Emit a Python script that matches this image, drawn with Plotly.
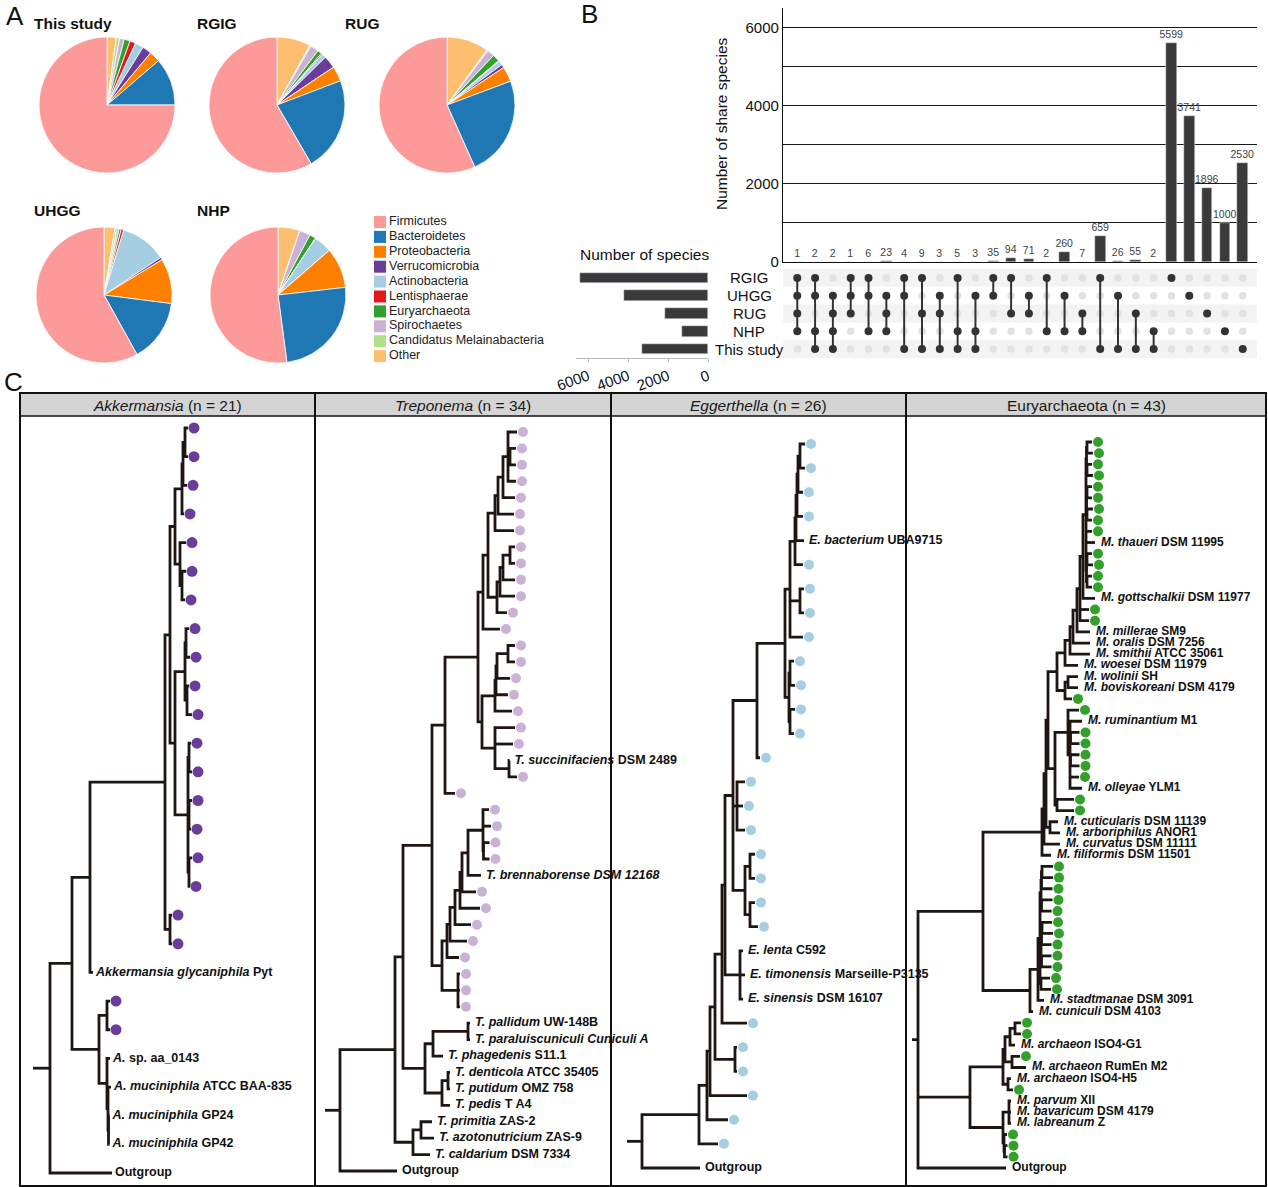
import plotly.graph_objects as go

W, H = 1268, 1187
FONT = "Liberation Sans, Arial, Helvetica, sans-serif"

# ---------------- Panel A data ----------------
PHYLA = ["Firmicutes", "Bacteroidetes", "Proteobacteria", "Verrucomicrobia",
         "Actinobacteria", "Lentisphaerae", "Euryarchaeota", "Spirochaetes",
         "Candidatus Melainabacteria", "Other"]
PHYLA_COLORS = ["#fb9a99", "#1f78b4", "#ff7f00", "#6a3d9a", "#a6cee3",
                "#e31a1c", "#33a02c", "#cab2d6", "#b2df8a", "#fdbf6f"]
PIE_THIS_STUDY = [75.0, 11.3, 2.6, 2.2, 2.0, 1.4, 1.4, 1.1, 0.8, 2.2]
PIE_RGIG = [58.4, 22.4, 3.6, 3.0, 1.0, 0.3, 1.0, 2.0, 0.3, 8.0]
PIE_RUG = [56.7, 24.0, 3.6, 0.8, 1.0, 0.2, 1.7, 1.7, 0.3, 10.0]
PIE_UHGG = [58.0, 14.9, 10.7, 0.6, 11.0, 0.6, 0.5, 0.5, 0.5, 2.6]
PIE_NHP = [52.1, 24.7, 9.6, 0.0, 4.3, 0.0, 1.5, 2.6, 0.0, 5.2]
PIE_TITLES = ["This study", "RGIG", "RUG", "UHGG", "NHP"]

# ---------------- Panel B data ----------------
SETS = ["RGIG", "UHGG", "RUG", "NHP", "This study"]
INTERSECTION_MEMBERS = ["11110", "11011", "01111", "11100", "11010", "01110",
                        "11001", "10101", "01101", "10011", "01011", "11000",
                        "10100", "01100", "10010", "01010", "00110", "10001",
                        "01001", "00101", "00011", "10000", "01000", "00100",
                        "00010", "00001"]
INTERSECTION_SIZES = [1, 2, 2, 1, 6, 23, 4, 9, 3, 5, 3, 35, 94, 71, 2, 260, 7,
                      659, 26, 55, 2, 5599, 3741, 1896, 1000, 2530]

# ---------------- Panel C data ----------------
TREE_TITLES = ["<i>Akkermansia</i> (n = 21)", "<i>Treponema</i> (n = 34)",
               "<i>Eggerthella</i> (n = 26)", "Euryarchaeota (n = 43)"]
TREE_DOT_COLORS = ["#6a3d9a", "#cab2d6", "#a6cee3", "#33a02c"]
TIP_LABELS = {
    "Out": "Outgroup",
    "Agly": "<i>Akkermansia glycaniphila</i> Pyt",
    "Asp": "<i>A.</i> sp. aa_0143",
    "Aatcc": "<i>A. muciniphila</i> ATCC BAA-835",
    "Agp24": "<i>A. muciniphila</i> GP24",
    "Agp42": "<i>A. muciniphila</i> GP42",
    "Tsuc": "<i>T. succinifaciens</i> DSM 2489",
    "Tbre": "<i>T. brennaborense DSM 12168</i>",
    "Tpal": "<i>T. pallidum</i> UW-148B",
    "Tpar": "<i>T. paraluiscuniculi Cuniculi A</i>",
    "Tpha": "<i>T. phagedenis</i> S11.1",
    "Tden": "<i>T. denticola</i> ATCC 35405",
    "Tput": "<i>T. putidum</i> OMZ 758",
    "Tped": "<i>T. pedis</i> T A4",
    "Tpri": "<i>T. primitia</i> ZAS-2",
    "Tazo": "<i>T. azotonutricium</i> ZAS-9",
    "Tcal": "<i>T. caldarium</i> DSM 7334",
    "Ebac": "<i>E. bacterium</i> UBA9715",
    "Elen": "<i>E. lenta</i> C592",
    "Etim": "<i>E. timonensis</i> Marseille-P3135",
    "Esin": "<i>E. sinensis</i> DSM 16107",
    "Mtha": "<i>M. thaueri</i> DSM 11995",
    "Mgot": "<i>M. gottschalkii</i> DSM 11977",
    "Mmil": "<i>M. millerae</i> SM9",
    "Mora": "<i>M. oralis</i> DSM 7256",
    "Msmi": "<i>M. smithii</i> ATCC 35061",
    "Mwoe": "<i>M. woesei</i> DSM 11979",
    "Mwol": "<i>M. wolinii</i> SH",
    "Mbov": "<i>M. boviskoreani</i> DSM 4179",
    "Mrum": "<i>M. ruminantium</i> M1",
    "Moll": "<i>M. olleyae</i> YLM1",
    "Mcut": "<i>M. cuticularis</i> DSM 11139",
    "Marb": "<i>M. arboriphilus</i> ANOR1",
    "Mcur": "<i>M. curvatus</i> DSM 11111",
    "Mfil": "<i>M. filiformis</i> DSM 11501",
    "Msta": "<i>M. stadtmanae</i> DSM 3091",
    "Mcun": "<i>M. cuniculi</i> DSM 4103",
    "MisoG1": "<i>M. archaeon</i> ISO4-G1",
    "Mrum2": "<i>M. archaeon</i> RumEn M2",
    "MisoH5": "<i>M. archaeon</i> ISO4-H5",
    "Mpar": "<i>M. parvum</i> XII",
    "Mbav": "<i>M. bavaricum</i> DSM 4179",
    "Mlab": "<i>M. labreanum</i> Z",
}

# Newick trees (branch lengths; "*" = MAG of this study)
AKK_G = "(((*:3,*:3):2,*:4):1,*:2)"
AKK_H = "(*:6,(*:4,*:3):2)"
AKK_J = "((*:3,*:4):1,(*:2,*:5):2)"
AKK_K = "((*:2,*:3):1,(*:3,*:2):1,(*:3,*:1):1)"
AKK_REF = "((*:3,*:3):8,(Asp:3,(Aatcc:3,(Agp24:1,Agp42:1):0.5):1):8)"
TREE_AKK = ("((((((" + AKK_G + ":7," + AKK_H + ":5):5,(" + AKK_J + ":10," + AKK_K
            + ":13):5):5,(*:2,*:2):5):75,Agly:3):18," + AKK_REF + ":27):22,Out:62):17")

TREP_Y6 = "(*:9,(*:6,*:6):2,*:8)"
TREP_Y3 = "((((*:5,*:5):7,*:12):3,*:15):3,*:10)"
TREP_Y = "(((((" + TREP_Y6 + ":5,*:12):5,*:16):3,*:19):7," + TREP_Y3 + ":9):5,*:17)"
TREP_Z = "(((((*:7,*:7):11,*:13):1,*:12):1,*:17):13,(*:20,*:18,(Tsuc:0.5,*:8):14):13)"
TREP_U = ("((((((((*:6,*:8,(*:6,*:6):0.5):15,Tbre:13):6,*:14):2,*:20):5,*:16):5,*:17):3,*:12)"
          ":5,(*:2,*:2,*:2):16)")
TREP_REF = "(((Tpal:2,Tpar:2):35,Tpha:10):8,((Tden:2,Tput:2):6,Tped:8):17)"
TREP_OUTER = "((Tpri:11,Tazo:13):8,Tcal:17)"
TREE_TREP = ("((((((" + TREP_Y + ":5," + TREP_Z + ":4):33,*:10):13," + TREP_U + ":10):29,"
             + TREP_REF + ":22):8," + TREP_OUTER + ":18):55,Out:57):15")

EGG_N1 = "(((((*:5,*:5):2,*:5):1,*:6):1,Ebac:8):1,*:8)"
EGG_L = "((" + EGG_N1 + ":5,(*:4,*:4):10,*:13):5,((*:4,*:5):1,(*:5,*:4):1):4)"
EGG_I = "((" + EGG_L + ":28,*:3):24,(*:8,*:6,*:8):4,((*:5,*:5):5,(*:5,*:8):5):12)"
EGG_G = "(" + EGG_I + ":8,(Elen:3,Etim:5,Esin:3):15)"
TREE_EGG = "((((((" + EGG_G + ":3,*:25):7,(*:2,*:2):20):5,*:37):3,*:21):8,*:19):57,Out:58):15"

EUR_G8 = ("(((*:5,*:6):0.5,(*:5,*:6):0.5):0.5,((*:5,*:5):0.5,(*:6,*:5):0.5):0.5,*:6,Mtha:9,"
          "((*:5,*:6):0.5,(*:5,*:5):0.5):0.5)")
EUR_G = ("(((((((" + EUR_G8 + ":3,Mgot:12):3,*:9,*:9):3,Mmil:13):4,Mora:17):3,Msmi:20):5,"
         "Mwoe:13):8,((Mwol:10,Mbov:10):3,*:7):8)")
EUR_H = "((*:11,(Mrum:12,(*:9,*:9):0.5,(*:9,*:9):0.5,*:9,Moll:12):2):13,(*:17,*:17):2)"
EUR_C = "((((" + EUR_G + ":9," + EUR_H + ":7):2,(Mcut:8,Marb:10):4):2,Mcur:16):2,Mfil:9)"
EUR_PA = "(((*:11,*:11):0.5,*:11):0.5,(*:11,*:10):0.5)"
EUR_PB = "(((*:10,*:11):0.5,*:10):0.5,(*:10,*:10):0.5)"
EUR_D = "(((" + EUR_PA + ":1," + EUR_PB + ":1,(*:9,*:10):1):2,Msta:6):8,Mcun:3)"
EUR_B = ("(((((*:6,*:6):5,MisoG1:5):5,(*:8,Mrum2:14):7):2,(MisoH5:3,*:5):5):33,"
         "((Mpar:2,Mbav:2,Mlab:2):6,(*:3,(*:3,*:3):0.5):1):33)")
TREE_EUR = "((" + EUR_C + ":59," + EUR_D + ":47):65," + EUR_B + ":52,Out:88):6"

TREES = [TREE_AKK, TREE_TREP, TREE_EGG, TREE_EUR]


def px(x):
    return x / W


def py(y):
    return 1 - y / H


def parse_newick(s):
    pos = 0

    def node():
        nonlocal pos
        kids = []
        if s[pos] == "(":
            pos += 1
            while True:
                kids.append(node())
                c = s[pos]
                pos += 1
                if c == ")":
                    break
        start = pos
        while pos < len(s) and s[pos] not in ":,()":
            pos += 1
        name = s[start:pos]
        length = 0.0
        if pos < len(s) and s[pos] == ":":
            pos += 1
            start = pos
            while pos < len(s) and s[pos] not in ",()":
                pos += 1
            length = float(s[start:pos])
        return {"name": name, "len": length, "kids": kids}

    return node()


fig = go.Figure()

# ---------------- Panel A: pies ----------------
PIE_VALUES = [PIE_THIS_STUDY, PIE_RGIG, PIE_RUG, PIE_UHGG, PIE_NHP]
pie_centres = [(107, 105), (277, 105), (447, 105), (104, 295), (278, 295)]
title_pos = [(32, 23), (195, 23), (343, 23), (32, 211), (195, 211)]
R = 68
for vals, (cx, cy) in zip(PIE_VALUES, pie_centres):
    # drawn clockwise from 12 o'clock starting with "Other", ending with Firmicutes
    fig.add_trace(go.Pie(
        labels=PHYLA[::-1], values=vals[::-1], sort=False, direction="clockwise",
        rotation=0, textinfo="none", showlegend=False,
        marker=dict(colors=PHYLA_COLORS[::-1], line=dict(color="white", width=0.8)),
        domain=dict(x=[px(cx - R), px(cx + R)], y=[py(cy + R), py(cy - R)]),
        hoverinfo="label+percent"))

annotations = []
for t, (tx, ty) in zip(PIE_TITLES, title_pos):
    annotations.append(dict(text="<b>" + t + "</b>", x=px(tx), y=py(ty), xref="paper",
                            yref="paper", xanchor="left", yanchor="middle", showarrow=False,
                            font=dict(size=15.5, color="#111", family=FONT)))

# legend for phyla (overlay pixel axis x4/y4)
leg_y = [222 + i * 14.9 for i in range(len(PHYLA))]
fig.add_trace(go.Scatter(x=[380] * len(PHYLA), y=leg_y, mode="markers",
                         marker=dict(symbol="square", size=12, color=PHYLA_COLORS),
                         xaxis="x4", yaxis="y4", showlegend=False, hoverinfo="skip"))
fig.add_trace(go.Scatter(x=[389] * len(PHYLA), y=leg_y, mode="text", text=PHYLA,
                         textposition="middle right",
                         textfont=dict(size=12.5, color="#222", family=FONT),
                         xaxis="x4", yaxis="y4", showlegend=False, hoverinfo="skip"))

# ---------------- Panel B: UpSet ----------------
cols = list(range(len(INTERSECTION_SIZES)))
fig.add_trace(go.Bar(x=cols, y=INTERSECTION_SIZES, width=0.6, marker_color="#3a3a3a",
                     text=[str(v) for v in INTERSECTION_SIZES], textposition="outside",
                     textfont=dict(size=10.5, color="#404040", family=FONT),
                     constraintext="none", cliponaxis=False, xaxis="x", yaxis="y",
                     showlegend=False, hoverinfo="x+y"))

inx, iny, acx, acy, lx, ly = [], [], [], [], [], []
for j, mem in enumerate(INTERSECTION_MEMBERS):
    rows = [i for i, c in enumerate(mem) if c == "1"]
    for i in range(len(SETS)):
        if i in rows:
            acx.append(j)
            acy.append(i)
        else:
            inx.append(j)
            iny.append(i)
    if len(rows) > 1:
        lx += [j, j, None]
        ly += [min(rows), max(rows), None]
fig.add_trace(go.Scatter(x=inx, y=iny, mode="markers", marker=dict(size=7.5, color="#e2e2e2"),
                         xaxis="x2", yaxis="y2", showlegend=False, hoverinfo="skip"))
fig.add_trace(go.Scatter(x=lx, y=ly, mode="lines", line=dict(color="#333333", width=2),
                         xaxis="x2", yaxis="y2", showlegend=False, hoverinfo="skip"))
fig.add_trace(go.Scatter(x=acx, y=acy, mode="markers", marker=dict(size=8, color="#333333"),
                         xaxis="x2", yaxis="y2", showlegend=False, hoverinfo="skip"))

set_totals = [sum(v for m, v in zip(INTERSECTION_MEMBERS, INTERSECTION_SIZES) if m[i] == "1")
              for i in range(len(SETS))]
fig.add_trace(go.Bar(y=list(range(len(SETS))), x=set_totals, orientation="h", width=0.6,
                     marker_color="#3a3a3a", xaxis="x3", yaxis="y3", showlegend=False,
                     hoverinfo="x"))
for i, s in enumerate(SETS):
    annotations.append(dict(text=s, x=px(749), y=i, xref="paper", yref="y2",
                            xanchor="center", yanchor="middle", showarrow=False,
                            font=dict(size=15, color="#111", family=FONT)))
annotations.append(dict(text="Number of species", x=px(578), y=py(255), xref="paper",
                        yref="paper", xanchor="left", yanchor="middle", showarrow=False,
                        font=dict(size=15.5, color="#111", family=FONT)))
annotations.append(dict(text="Number of share species", x=px(721), y=py(124), xref="paper",
                        yref="paper", xanchor="center", yanchor="middle", showarrow=False,
                        textangle=-90, font=dict(size=15.5, color="#111", family=FONT)))

shapes = []
for i in (0, 2, 4):
    shapes.append(dict(type="rect", xref="x2 domain", x0=0, x1=1, yref="y2", y0=i - 0.5,
                       y1=i + 0.5, fillcolor="#f3f3f3", line=dict(width=0), layer="below"))

# ---------------- Panel C: trees ----------------
panel_edges = [20, 315, 611, 906, 1266]
tree_root_x = [33, 325, 627, 912]
tree_tip_span = [(428, 1173), (432, 1171), (444, 1168), (442, 1168)]
dot_sizes = [11, 10, 10, 10]
label_off = [3, 5, 5, 6]
label_size = [12.5, 12.5, 12.5, 12]
LINE_COLOR = "#1e1613"

shapes.append(dict(type="rect", xref="x4", yref="y4", x0=20, x1=1266, y0=393, y1=416,
                   fillcolor="#d4d4d4", line=dict(color="#111", width=1.5), layer="below"))
shapes.append(dict(type="rect", xref="x4", yref="y4", x0=20, x1=1266, y0=393, y1=1186,
                   line=dict(color="#111", width=2)))
for xe in panel_edges[1:-1]:
    shapes.append(dict(type="line", xref="x4", yref="y4", x0=xe, x1=xe, y0=393, y1=1186,
                       line=dict(color="#111", width=2)))

for k, tree_str in enumerate(TREES):
    root = parse_newick(tree_str)
    tips = []

    def collect(n):
        if n["kids"]:
            for c in n["kids"]:
                collect(c)
        else:
            tips.append(n)

    collect(root)
    y0, y1 = tree_tip_span[k]
    step = (y1 - y0) / (len(tips) - 1)
    for i, t in enumerate(tips):
        t["y"] = y0 + i * step

    def place(n, parent_x):
        n["x"] = parent_x + n["len"]
        if n["kids"]:
            for c in n["kids"]:
                place(c, n["x"])
            n["y"] = (n["kids"][0]["y"] + n["kids"][-1]["y"]) / 2

    x0 = tree_root_x[k]
    place(root, x0)
    sx = [x0, root["x"], None]
    sy = [root["y"], root["y"], None]

    def segs(n):
        if not n["kids"]:
            return
        a, b = n["kids"][0], n["kids"][-1]
        sx.extend([a["x"], n["x"], n["x"], b["x"], None])
        sy.extend([a["y"], a["y"], b["y"], b["y"], None])
        for c in n["kids"][1:-1]:
            sx.extend([n["x"], c["x"], None])
            sy.extend([c["y"], c["y"], None])
        for c in n["kids"]:
            segs(c)

    segs(root)
    fig.add_trace(go.Scatter(x=sx, y=sy, mode="lines",
                             line=dict(color=LINE_COLOR, width=2.8),
                             xaxis="x4", yaxis="y4", showlegend=False, hoverinfo="skip"))
    dots = [t for t in tips if t["name"] == "*"]
    fig.add_trace(go.Scatter(x=[t["x"] + 6 for t in dots], y=[t["y"] for t in dots],
                             mode="markers",
                             marker=dict(size=dot_sizes[k], color=TREE_DOT_COLORS[k]),
                             xaxis="x4", yaxis="y4", showlegend=False, hoverinfo="skip"))
    labs = [t for t in tips if t["name"] != "*"]
    fig.add_trace(go.Scatter(x=[t["x"] + label_off[k] for t in labs], y=[t["y"] for t in labs],
                             mode="text", text=["<b>" + TIP_LABELS[t["name"]] + "</b>" for t in labs],
                             textposition="middle right", cliponaxis=False,
                             textfont=dict(size=label_size[k], color="#111", family=FONT),
                             xaxis="x4", yaxis="y4", showlegend=False, hoverinfo="skip"))
    annotations.append(dict(text=TREE_TITLES[k], x=(panel_edges[k] + panel_edges[k + 1]) / 2,
                            y=405, xref="x4", yref="y4", xanchor="center", yanchor="middle",
                            showarrow=False, font=dict(size=15.5, color="#1a1a1a", family=FONT)))

# panel letters
for letter, (lx_, ly_) in zip("ABC", [(4, 16), (579, 14), (2, 382)]):
    annotations.append(dict(text=letter, x=px(lx_), y=py(ly_), xref="paper", yref="paper",
                            xanchor="left", yanchor="middle", showarrow=False,
                            font=dict(size=26, color="#111", family=FONT)))

top_dom_x = [px(783), px(1257)]
mat_dom_y = [py(358), py(269)]
fig.update_layout(
    width=W, height=H, margin=dict(l=0, r=0, t=0, b=0, pad=0, autoexpand=False),
    paper_bgcolor="white", plot_bgcolor="rgba(0,0,0,0)",
    font=dict(family=FONT, color="#111"),
    showlegend=False, bargap=0,
    xaxis=dict(domain=top_dom_x, range=[-0.8, 25.8], showticklabels=False, showgrid=False,
               zeroline=False, showline=True, linecolor="#111", linewidth=1.3, ticks="",
               anchor="y", automargin=False),
    yaxis=dict(domain=[py(262), py(8)], range=[0, 6500],
               tickvals=[0, 1000, 2000, 3000, 4000, 5000, 6000],
               ticktext=["0", "", "2000", "", "4000", "", "6000"],
               showgrid=True, gridcolor="#1a1a1a", gridwidth=1.3, zeroline=False,
               showline=True, linecolor="#111", linewidth=1.3, ticks="",
               tickfont=dict(size=15, color="#111"), anchor="x", automargin=False),
    xaxis2=dict(domain=top_dom_x, range=[-0.8, 25.8], visible=False, anchor="y2"),
    yaxis2=dict(domain=mat_dom_y, range=[4.5, -0.5], visible=False, anchor="x2"),
    xaxis3=dict(domain=[px(576), px(708)], range=[6600, 0], tickvals=[0, 2000, 4000, 6000],
                ticktext=["0", "2000", "4000", "6000"], tickangle=-20, showgrid=False,
                zeroline=False, showline=True, linecolor="#bbbbbb", linewidth=1,
                ticks="outside", ticklen=3, tickcolor="#bbbbbb",
                tickfont=dict(size=15, color="#111"), anchor="y3", automargin=False),
    yaxis3=dict(domain=mat_dom_y, range=[4.5, -0.5], visible=False, anchor="x3"),
    xaxis4=dict(domain=[0, 1], range=[0, W], visible=False, anchor="y4"),
    yaxis4=dict(domain=[0, 1], range=[H, 0], visible=False, anchor="x4"),
    annotations=annotations, shapes=shapes,
)

fig.write_html("out.html", config={"displayModeBar": False},
               post_script="document.body.style.margin='0px';document.body.style.overflow='hidden';")
